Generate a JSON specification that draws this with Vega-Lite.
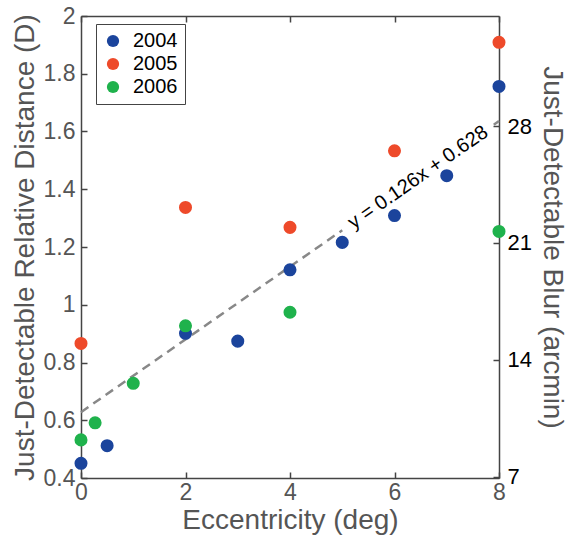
{
  "$schema": "https://vega.github.io/schema/vega-lite/v6.json",
  "width": 418,
  "height": 462,
  "autosize": {"type": "none"},
  "padding": {"left": 81, "top": 16, "right": 71, "bottom": 59},
  "config": {
    "font": "Liberation Sans",
    "view": {"stroke": null},
    "axis": {"grid": false, "domainColor": "#444", "domainWidth": 1.5, "tickColor": "#444", "tickWidth": 1.5, "labelFlush": false, "labelOverlap": false}
  },
  "datasets": {
    "pts": [
      {"year": "2004", "ecc": 0, "d": 0.451},
      {"year": "2004", "ecc": 0.5, "d": 0.512},
      {"year": "2004", "ecc": 2, "d": 0.901},
      {"year": "2004", "ecc": 3, "d": 0.874},
      {"year": "2004", "ecc": 4, "d": 1.121},
      {"year": "2004", "ecc": 5, "d": 1.216},
      {"year": "2004", "ecc": 6, "d": 1.309},
      {"year": "2004", "ecc": 7, "d": 1.447},
      {"year": "2004", "ecc": 8, "d": 1.756},
      {"year": "2005", "ecc": 0, "d": 0.866},
      {"year": "2005", "ecc": 2, "d": 1.337},
      {"year": "2005", "ecc": 4, "d": 1.268},
      {"year": "2005", "ecc": 6, "d": 1.533},
      {"year": "2005", "ecc": 8, "d": 1.909},
      {"year": "2006", "ecc": 0, "d": 0.532},
      {"year": "2006", "ecc": 0.27, "d": 0.591},
      {"year": "2006", "ecc": 1, "d": 0.728},
      {"year": "2006", "ecc": 2, "d": 0.927},
      {"year": "2006", "ecc": 4, "d": 0.974},
      {"year": "2006", "ecc": 8, "d": 1.254}
    ],
    "fit": [
      {"seg": "a", "ecc": 0, "d": 0.628},
      {"seg": "a", "ecc": 5.0, "d": 1.258},
      {"seg": "b", "ecc": 7.9, "d": 1.623},
      {"seg": "b", "ecc": 8, "d": 1.636}
    ],
    "label": [
      {"ecc": 6.45, "d": 1.441, "txt": "y = 0.126x + 0.628"}
    ],
    "right": [
      {"ecc": 0, "arcmin": 7},
      {"ecc": 8, "arcmin": 28}
    ]
  },
  "layer": [
    {
      "layer": [
        {
          "data": {"name": "fit"},
          "mark": {"type": "line", "color": "#888", "strokeWidth": 2.5, "strokeDash": [9, 6]},
          "encoding": {
            "x": {"field": "ecc", "type": "quantitative", "scale": {"domain": [0, 8], "nice": false},
              "axis": {"orient": "bottom", "values": [0, 2, 4, 6, 8], "tickSize": -6, "labelPadding": 9, "labelFontSize": 23, "labelColor": "#555",
                "title": "Eccentricity (deg)", "titleFontSize": 28, "titleFontWeight": "normal", "titleColor": "#555", "titlePadding": 2}},
            "y": {"field": "d", "type": "quantitative", "scale": {"domain": [0.4, 2], "nice": false, "zero": false},
              "axis": {"orient": "left", "values": [0.4, 0.6, 0.8, 1, 1.2, 1.4, 1.6, 1.8, 2], "format": "~g", "tickSize": -6, "labelPadding": 12, "labelFontSize": 23, "labelColor": "#555",
                "title": "Just-Detectable Relative Distance (D)", "titleFontSize": 28, "titleFontWeight": "normal", "titleColor": "#555", "titlePadding": 4}},
            "detail": {"field": "seg"}
          }
        },
        {
          "data": {"name": "pts"},
          "mark": {"type": "circle", "size": 170, "opacity": 1},
          "encoding": {
            "x": {"field": "ecc", "type": "quantitative"},
            "y": {"field": "d", "type": "quantitative"},
            "color": {"field": "year", "type": "nominal",
              "scale": {"domain": ["2004", "2005", "2006"], "range": ["#1B449C", "#EE4A2A", "#1FB24C"]},
              "legend": {"title": null, "orient": "none", "legendX": 15, "legendY": 8, "symbolType": "circle", "symbolSize": 150, "symbolStrokeWidth": 0,
                "labelFontSize": 20, "labelColor": "#000", "strokeColor": "#444", "padding": 7, "rowPadding": 3, "labelOffset": 10, "fillColor": "white"}}
          }
        },
        {
          "data": {"name": "label"},
          "mark": {"type": "text", "angle": -34.8, "fontSize": 20, "align": "center", "baseline": "middle", "color": "#000"},
          "encoding": {
            "x": {"field": "ecc", "type": "quantitative"},
            "y": {"field": "d", "type": "quantitative"},
            "text": {"field": "txt"}
          }
        }
      ]
    },
    {
      "data": {"name": "right"},
      "mark": {"type": "point", "opacity": 0},
      "encoding": {
        "x": {"field": "ecc", "type": "quantitative",
          "axis": {"orient": "top", "values": [0, 2, 4, 6, 8], "tickSize": -6, "labels": false, "title": null}},
        "y": {"field": "arcmin", "type": "quantitative", "scale": {"domain": [6.92, 34.6], "nice": false, "zero": false},
          "axis": {"orient": "right", "values": [7, 14, 21, 28], "tickSize": -6, "labelPadding": 14, "labelFontSize": 22, "labelColor": "#000",
            "title": "Just-Detectable Blur (arcmin)", "titleFontSize": 28, "titleFontWeight": "normal", "titleColor": "#555", "titlePadding": 6}}
      }
    }
  ],
  "resolve": {"scale": {"y": "independent"}, "axis": {"x": "independent", "y": "independent"}}
}
